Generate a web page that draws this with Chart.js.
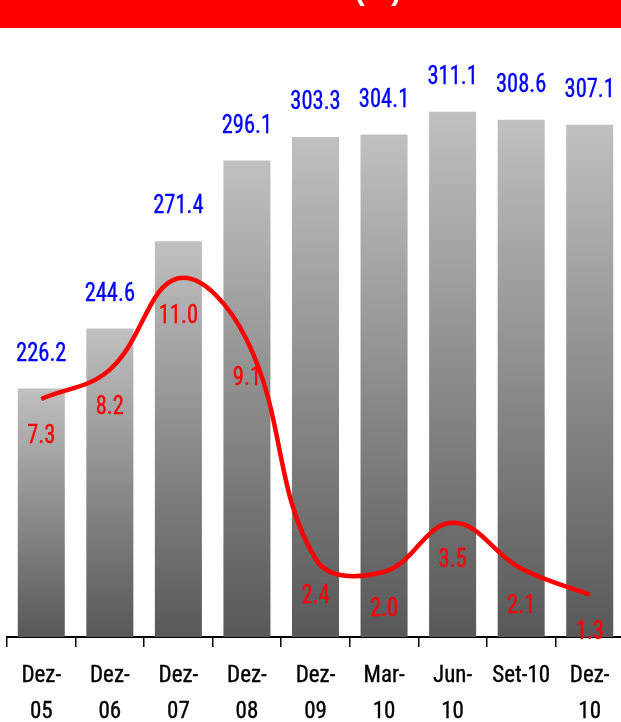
<!DOCTYPE html>
<html>
<head>
<meta charset="utf-8">
<script src="https://cdn.jsdelivr.net/npm/chart.js@4.4.1/dist/chart.umd.min.js"></script>
<style>
  html, body { margin: 0; padding: 0; background: #fff; overflow: hidden; width: 621px; height: 722px; }
  canvas { display: block; }
</style>
</head>
<body>
<canvas id="chart" width="624" height="741"></canvas>
<script>
const periods = [['Dez-', '05'], ['Dez-', '06'], ['Dez-', '07'], ['Dez-', '08'], ['Dez-', '09'],
                 ['Mar-', '10'], ['Jun-', '10'], 'Set-10', ['Dez-', '10']];
const balances = [226.2, 244.6, 271.4, 296.1, 303.3, 304.1, 311.1, 308.6, 307.1];
const rates = [7.3, 8.2, 11.0, 9.1, 2.4, 2.0, 3.5, 2.1, 1.3];
const headerTitle = '(%)';

const narrow = '"Roboto Condensed", "DejaVu Sans Condensed", sans-serif';

// grey fade from the top of each bar down to the baseline
function barFill(ctx) {
  const chart = ctx.chart;
  const area = chart.chartArea;
  if (!area || ctx.type !== 'data') return '#8c8c8c';
  const top = chart.scales.y.getPixelForValue(ctx.raw);
  const g = chart.ctx.createLinearGradient(0, top, 0, area.bottom);
  g.addColorStop(0, '#c0c0c0');
  g.addColorStop(1, '#585858');
  return g;
}

const header = {
  id: 'header',
  beforeDraw(chart) {
    const c = chart.ctx;
    c.save();
    c.fillStyle = '#ff0000';
    c.fillRect(0, 0, chart.width, 28);
    c.fillStyle = '#ffffff';
    c.font = 'bold 30px "Liberation Sans", Arial, sans-serif';
    c.textAlign = 'center';
    c.textBaseline = 'alphabetic';
    c.fillText(headerTitle, 378, 0);
    c.restore();
  }
};

// squeezed a little and lightly stroked so the numbers come out narrow but solid
function narrowText(c, text, x, y) {
  c.save();
  c.translate(x, y);
  c.scale(0.9, 1);
  c.fillText(text, 0, 0);
  c.strokeText(text, 0, 0);
  c.restore();
}

const valueLabels = {
  id: 'valueLabels',
  afterDatasetsDraw(chart) {
    const c = chart.ctx;
    c.save();
    c.font = '25px ' + narrow;
    c.textAlign = 'center';
    c.textBaseline = 'middle';
    c.lineWidth = 0.35;
    chart.getDatasetMeta(1).data.forEach((bar, i) => {
      c.fillStyle = c.strokeStyle = '#0000ff';
      narrowText(c, balances[i].toFixed(1), bar.x, bar.y - 34);
    });
    chart.getDatasetMeta(0).data.forEach((pt, i) => {
      c.fillStyle = c.strokeStyle = '#ff0000';
      narrowText(c, rates[i].toFixed(1), pt.x, pt.y + 38);
    });
    c.restore();
  }
};

new Chart(document.getElementById('chart'), {
  data: {
    labels: periods,
    datasets: [{
      type: 'line',
      data: rates,
      yAxisID: 'y2',
      borderColor: '#ff0000',
      borderWidth: 4.5,
      pointRadius: 0,
      tension: 0.4,
      order: 0
    }, {
      type: 'bar',
      data: balances,
      yAxisID: 'y',
      backgroundColor: barFill,
      borderWidth: 0,
      barPercentage: 0.686,
      categoryPercentage: 1,
      order: 1
    }]
  },
  options: {
    responsive: false,
    devicePixelRatio: 1,
    animation: false,
    layout: { padding: { left: 7, right: 0, top: 37, bottom: 0 } },
    plugins: { legend: { display: false }, tooltip: { enabled: false } },
    scales: {
      x: {
        offset: true,
        grid: { display: true, drawOnChartArea: false, drawTicks: true, tickLength: 10, color: '#000', lineWidth: 1.5, offset: true },
        border: { display: true, color: '#000', width: 2 },
        ticks: {
          color: '#000', padding: 11, maxRotation: 0, autoSkip: false,
          textStrokeColor: '#000', textStrokeWidth: 0.35,
          font: { family: narrow, size: 23, lineHeight: '36px' }
        }
      },
      y: { display: false, min: 150, max: 334 },
      y2: { display: false, min: 0, max: 18.4 }
    }
  },
  plugins: [header, valueLabels]
});
</script>
</body>
</html>
